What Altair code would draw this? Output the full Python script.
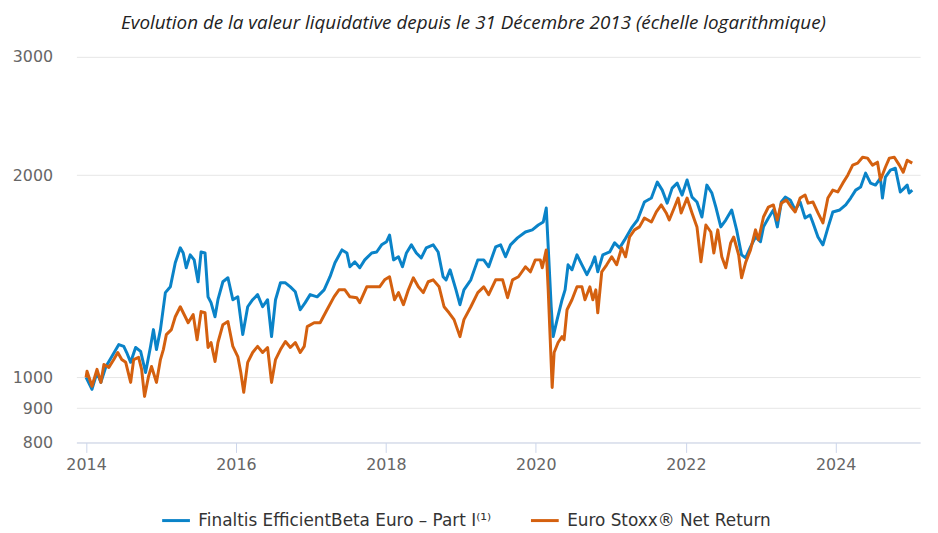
import altair as alt
import pandas as pd

# Finaltis EfficientBeta Euro - Part I (decimal years, value base 1000)
fund_years = [2014.000, 2014.079, 2014.146, 2014.198, 2014.265, 2014.344, 2014.437, 2014.503, 2014.542, 2014.595,
              2014.661, 2014.728, 2014.794, 2014.860, 2014.899, 2014.939, 2014.992, 2015.058, 2015.124, 2015.190,
              2015.257, 2015.296, 2015.336, 2015.389, 2015.442, 2015.494, 2015.534, 2015.587, 2015.627, 2015.667,
              2015.720, 2015.759, 2015.825, 2015.892, 2015.958, 2016.024, 2016.090, 2016.156, 2016.222, 2016.288,
              2016.355, 2016.421, 2016.474, 2016.527, 2016.593, 2016.659, 2016.725, 2016.791, 2016.857, 2016.923,
              2016.989, 2017.082, 2017.175, 2017.254, 2017.320, 2017.413, 2017.479, 2017.519, 2017.585, 2017.651,
              2017.717, 2017.810, 2017.876, 2017.942, 2018.008, 2018.048, 2018.101, 2018.167, 2018.220, 2018.273,
              2018.339, 2018.405, 2018.471, 2018.537, 2018.630, 2018.696, 2018.762, 2018.802, 2018.855, 2018.934,
              2018.987, 2019.040, 2019.132, 2019.225, 2019.304, 2019.370, 2019.463, 2019.529, 2019.595, 2019.661,
              2019.754, 2019.860, 2019.952, 2020.032, 2020.098, 2020.138, 2020.164, 2020.204, 2020.230, 2020.283,
              2020.349, 2020.389, 2020.429, 2020.481, 2020.548, 2020.614, 2020.680, 2020.746, 2020.786, 2020.825,
              2020.892, 2020.984, 2021.050, 2021.117, 2021.183, 2021.275, 2021.355, 2021.447, 2021.540, 2021.619,
              2021.685, 2021.751, 2021.817, 2021.884, 2021.950, 2022.016, 2022.082, 2022.148, 2022.214, 2022.280,
              2022.347, 2022.400, 2022.466, 2022.532, 2022.611, 2022.677, 2022.743, 2022.796, 2022.862, 2022.929,
              2022.995, 2023.035, 2023.101, 2023.167, 2023.220, 2023.273, 2023.325, 2023.392, 2023.458, 2023.524,
              2023.590, 2023.656, 2023.696, 2023.762, 2023.828, 2023.894, 2023.960, 2024.053, 2024.132, 2024.198,
              2024.265, 2024.331, 2024.397, 2024.463, 2024.529, 2024.595, 2024.622, 2024.661, 2024.728, 2024.794,
              2024.860, 2024.913, 2024.952, 2024.979, 2025.019]
fund_values = [1000, 960, 1017, 983, 1038, 1074, 1119, 1112, 1089, 1053,
               1108, 1093, 1017, 1112, 1178, 1100, 1178, 1337, 1364, 1481,
               1559, 1532, 1456, 1522, 1496, 1388, 1537, 1532, 1318, 1292,
               1231, 1305, 1388, 1407, 1305, 1318, 1158, 1274, 1305, 1328,
               1274, 1305, 1150, 1305, 1383, 1383, 1364, 1341, 1261, 1292,
               1328, 1318, 1350, 1412, 1481, 1548, 1532, 1461, 1486, 1456,
               1496, 1532, 1537, 1575, 1592, 1629, 1496, 1512, 1461, 1532,
               1575, 1532, 1506, 1559, 1575, 1537, 1412, 1397, 1446, 1350,
               1283, 1350, 1397, 1496, 1496, 1461, 1564, 1575, 1512, 1575,
               1613, 1646, 1658, 1686, 1703, 1787, 1564, 1274, 1150, 1219,
               1305, 1350, 1471, 1446, 1522, 1471, 1422, 1471, 1512, 1436,
               1522, 1537, 1586, 1559, 1602, 1669, 1715, 1824, 1849, 1953,
               1900, 1817, 1913, 1946, 1868, 1967, 1855, 1824, 1733, 1933,
               1881, 1793, 1675, 1715, 1775, 1658, 1522, 1506, 1564, 1618,
               1592, 1675, 1727, 1775, 1675, 1824, 1855, 1837, 1775, 1824,
               1727, 1745, 1698, 1618, 1575, 1669, 1763, 1775, 1806, 1849,
               1900, 1920, 2014, 1946, 1933, 1980, 1849, 1987, 2035, 2048,
               1888, 1913, 1933, 1881, 1900]

# Euro Stoxx Net Return (decimal years, value base 1000)
index_years = [2014.000, 2014.013, 2014.079, 2014.146, 2014.198, 2014.238, 2014.304, 2014.370, 2014.423, 2014.476,
               2014.529, 2014.595, 2014.635, 2014.701, 2014.741, 2014.780, 2014.833, 2014.873, 2014.939, 2014.992,
               2015.031, 2015.071, 2015.138, 2015.190, 2015.257, 2015.323, 2015.362, 2015.429, 2015.481, 2015.534,
               2015.587, 2015.627, 2015.667, 2015.720, 2015.759, 2015.825, 2015.892, 2015.958, 2016.024, 2016.064,
               2016.103, 2016.156, 2016.222, 2016.288, 2016.355, 2016.421, 2016.474, 2016.527, 2016.593, 2016.659,
               2016.725, 2016.791, 2016.857, 2016.910, 2016.950, 2017.042, 2017.122, 2017.214, 2017.307, 2017.373,
               2017.452, 2017.519, 2017.611, 2017.651, 2017.744, 2017.836, 2017.915, 2017.982, 2018.048, 2018.114,
               2018.167, 2018.233, 2018.299, 2018.365, 2018.432, 2018.498, 2018.564, 2018.630, 2018.709, 2018.775,
               2018.841, 2018.908, 2018.987, 2019.040, 2019.132, 2019.225, 2019.304, 2019.370, 2019.463, 2019.556,
               2019.622, 2019.688, 2019.767, 2019.860, 2019.926, 2019.992, 2020.058, 2020.085, 2020.138, 2020.164,
               2020.191, 2020.217, 2020.243, 2020.296, 2020.349, 2020.376, 2020.415, 2020.481, 2020.548, 2020.614,
               2020.654, 2020.720, 2020.759, 2020.799, 2020.825, 2020.878, 2020.944, 2021.011, 2021.077, 2021.143,
               2021.196, 2021.249, 2021.315, 2021.381, 2021.447, 2021.540, 2021.606, 2021.672, 2021.738, 2021.778,
               2021.844, 2021.897, 2021.937, 2022.016, 2022.082, 2022.148, 2022.201, 2022.267, 2022.333, 2022.373,
               2022.426, 2022.479, 2022.532, 2022.598, 2022.638, 2022.704, 2022.743, 2022.796, 2022.862, 2022.929,
               2022.968, 2023.035, 2023.101, 2023.167, 2023.220, 2023.273, 2023.339, 2023.405, 2023.458, 2023.524,
               2023.590, 2023.630, 2023.696, 2023.762, 2023.828, 2023.894, 2023.960, 2024.026, 2024.093, 2024.159,
               2024.225, 2024.291, 2024.357, 2024.423, 2024.489, 2024.556, 2024.595, 2024.661, 2024.714, 2024.780,
               2024.847, 2024.899, 2024.952, 2025.019]
index_values = [1000, 1021, 970, 1028, 983, 1045, 1035, 1063, 1089, 1063,
                1053, 983, 1063, 1071, 1028, 937, 1003, 1038, 983, 1063,
                1100, 1158, 1178, 1231, 1274, 1231, 1206, 1240, 1138, 1253,
                1248, 1108, 1127, 1056, 1127, 1198, 1211, 1112, 1074, 1017,
                950, 1053, 1089, 1112, 1089, 1108, 983, 1063, 1100, 1131,
                1108, 1127, 1089, 1112, 1190, 1206, 1206, 1261, 1318, 1350,
                1350, 1318, 1314, 1292, 1364, 1364, 1364, 1397, 1412, 1305,
                1337, 1283, 1350, 1407, 1364, 1337, 1388, 1397, 1364, 1274,
                1248, 1219, 1150, 1219, 1274, 1337, 1364, 1328, 1397, 1397,
                1314, 1397, 1412, 1461, 1436, 1496, 1496, 1456, 1548, 1350,
                1138, 966, 1089, 1127, 1150, 1138, 1261, 1305, 1364, 1364,
                1305, 1364, 1305, 1350, 1248, 1436, 1471, 1512, 1471, 1559,
                1512, 1618, 1658, 1675, 1727, 1703, 1763, 1806, 1757, 1715,
                1787, 1849, 1757, 1849, 1757, 1675, 1486, 1686, 1646, 1532,
                1658, 1512, 1456, 1586, 1618, 1522, 1407, 1481, 1548, 1658,
                1602, 1733, 1793, 1806, 1715, 1817, 1837, 1793, 1763, 1849,
                1868, 1817, 1824, 1757, 1698, 1849, 1900, 1888, 1946, 2000,
                2070, 2084, 2127, 2120, 2070, 2091, 1967, 2055, 2120, 2127,
                2070, 2020, 2105, 2084]

series_names = ["Finaltis EfficientBeta Euro \u2013 Part I\u207d\u00b9\u207e", "Euro Stoxx\u00ae Net Return"]
series_colors = ["#0A83C8", "#D4600F"]
y_ticks = [800, 900, 1000, 2000, 3000]
x_tick_years = [2014, 2016, 2018, 2020, 2022, 2024]
title_text = "Evolution de la valeur liquidative depuis le 31 Décembre 2013 (échelle logarithmique)"


def to_dates(years):
    base = pd.Timestamp("2014-01-01")
    return [(base + pd.Timedelta(days=(y - 2014) * 365.25)).strftime("%Y-%m-%dT%H:%M:%S") for y in years]


df = pd.concat([
    pd.DataFrame({"date": to_dates(fund_years), "value": fund_values, "serie": series_names[0], "order": 0}),
    pd.DataFrame({"date": to_dates(index_years), "value": index_values, "serie": series_names[1], "order": 1}),
])

chart = alt.Chart(df).mark_line(strokeWidth=3, strokeJoin="round").encode(
    x=alt.X("date:T",
            scale=alt.Scale(domain=[alt.DateTime(year=2013, month=11, date=15),
                                    alt.DateTime(year=2025, month=2, date=15)]),
            axis=alt.Axis(values=[alt.DateTime(year=y, month=1, date=1) for y in x_tick_years],
                          format="%Y", title=None, grid=False, domain=True, domainColor="#ccd6eb",
                          tickColor="#ccd6eb", tickSize=10, labelPadding=4, labelFontSize=16,
                          labelColor="#666666", labelFont="DejaVu Sans")),
    y=alt.Y("value:Q",
            scale=alt.Scale(type="log", domain=[800, 3000], nice=False),
            axis=alt.Axis(values=y_ticks, format="d", title=None, grid=True, gridColor="#e6e6e6",
                          domain=False, ticks=False, labelPadding=24, labelFontSize=16,
                          labelColor="#666666", labelFont="DejaVu Sans")),
    color=alt.Color("serie:N",
                    scale=alt.Scale(domain=series_names, range=series_colors),
                    legend=alt.Legend(title=None, orient="none", direction="horizontal",
                                      legendX=85, legendY=452, symbolType="stroke",
                                      symbolSize=784, symbolStrokeWidth=3, labelFontSize=17,
                                      labelColor="#333333", labelFont="DejaVu Sans",
                                      labelOffset=7, columnPadding=33, labelLimit=400)),
    order=alt.Order("order:Q"),
).properties(
    width=851,
    height=389,
    title=alt.TitleParams(title_text, font="Open Sans", fontSize=19, fontStyle="italic",
                          fontWeight="normal", color="#222222", anchor="middle", dx=-25, offset=16),
    autosize=alt.AutoSizeParams(type="none"),
    padding={"left": 69, "top": 47, "right": 10, "bottom": 89},
).configure_view(stroke=None)

chart.save("out.html", embed_options={"renderer": "svg", "actions": False})
